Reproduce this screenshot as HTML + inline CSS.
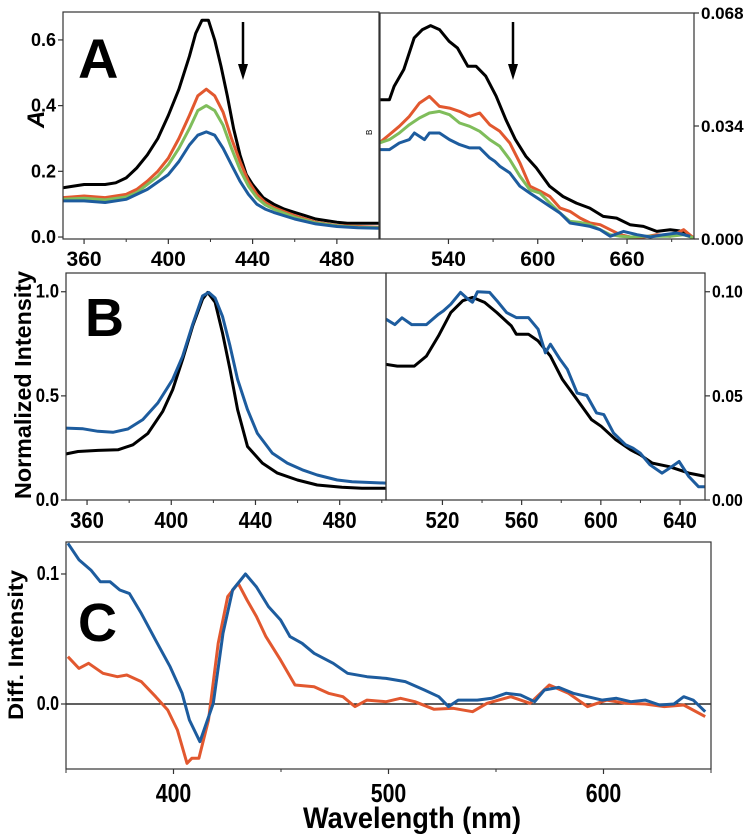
<!DOCTYPE html>
<html><head><meta charset="utf-8">
<style>
html,body{margin:0;padding:0;background:#fff;}
svg{display:block;font-family:"Liberation Sans",Arial,sans-serif;}
</style></head>
<body>
<svg id="fig" width="748" height="835" viewBox="0 0 748 835" xmlns="http://www.w3.org/2000/svg"></svg>
<script>
// ---------- DATA ----------
const aLeftBlack=[[350,0.15],[355,0.155],[360,0.16],[365,0.16],[370,0.16],[375,0.165],[380,0.18],[385,0.21],[390,0.25],[395,0.30],[400,0.37],[405,0.45],[410,0.55],[413,0.62],[416,0.66],[419,0.66],[422,0.60],[425,0.52],[428,0.43],[431,0.33],[434,0.25],[437,0.19],[440,0.16],[445,0.12],[450,0.10],[455,0.085],[460,0.075],[465,0.065],[470,0.055],[475,0.05],[480,0.045],[485,0.042],[490,0.042],[500,0.042]];
const aLeftRed=[[350,0.12],[360,0.125],[370,0.12],[380,0.13],[385,0.145],[390,0.17],[395,0.20],[400,0.24],[405,0.30],[410,0.37],[414,0.43],[418,0.45],[422,0.43],[426,0.38],[430,0.30],[434,0.23],[438,0.17],[442,0.13],[446,0.105],[450,0.09],[460,0.065],[470,0.045],[480,0.035],[490,0.032],[500,0.03]];
const aLeftGreen=[[350,0.115],[360,0.118],[370,0.113],[380,0.122],[385,0.135],[390,0.16],[395,0.185],[400,0.22],[405,0.27],[410,0.33],[414,0.385],[418,0.40],[422,0.385],[426,0.34],[430,0.27],[434,0.205],[438,0.155],[442,0.12],[446,0.098],[450,0.085],[460,0.06],[470,0.043],[480,0.034],[490,0.03],[500,0.028]];
const aLeftBlue=[[350,0.11],[360,0.11],[370,0.105],[380,0.115],[390,0.145],[400,0.19],[405,0.23],[410,0.28],[414,0.31],[418,0.32],[422,0.31],[426,0.27],[430,0.22],[434,0.17],[438,0.13],[442,0.10],[446,0.085],[450,0.075],[460,0.055],[470,0.04],[480,0.032],[490,0.028],[500,0.027]];
const aRightBlack=[[493.5,0.0419],[500.3,0.0419],[503.5,0.0459],[510,0.051],[517,0.0605],[522.5,0.063],[528,0.0642],[534,0.063],[540.4,0.0595],[546,0.0575],[553,0.052],[558.5,0.052],[565,0.049],[572,0.043],[578.6,0.0359],[585,0.0299],[592,0.0249],[599,0.0214],[608,0.0159],[617,0.0128],[626,0.0108],[635,0.0093],[644,0.0068],[653,0.0063],[662,0.0043],[671,0.0038],[680,0.0023],[689,0.0028],[698,0.0023],[705,0.0003]];
const aRightRed=[[493.5,0.0289],[500.3,0.0314],[507,0.0339],[513.7,0.0369],[520.5,0.0409],[527.2,0.0429],[534,0.0399],[540.7,0.0394],[547.5,0.0384],[554.2,0.0369],[561,0.0379],[567.7,0.0344],[574.5,0.0324],[581.2,0.0289],[588,0.0229],[594.7,0.0159],[601.5,0.0144],[608.2,0.0128],[615,0.0093],[621.7,0.0083],[628.5,0.0063],[635.2,0.0048],[642,0.0043],[648.7,0.0028],[655.5,0.0013],[662.2,0.0006],[671.2,0.0006],[680,0.0013],[689,0.0008],[698,0.0028],[704.7,0.0003]];
const aRightGreen=[[493.5,0.0289],[500.3,0.0299],[507,0.0319],[513.7,0.0344],[520.5,0.0364],[527.2,0.0379],[534,0.0384],[540.7,0.0374],[547.5,0.0349],[554.2,0.0339],[561,0.0324],[567.7,0.0299],[574.5,0.0279],[581.2,0.0239],[588,0.0189],[594.7,0.0148],[601.5,0.0138],[608.2,0.0108],[615,0.0078],[621.7,0.0053],[628.5,0.005],[635.2,0.0043],[642,0.0028],[648.7,0.0013],[655.5,0.0008],[662.2,0.0006],[671.2,0.0008],[680,0.0008],[689,0.0008],[698,0.0013],[704.7,0.0003]];
const aRightBlue=[[493.5,0.0269],[500.3,0.0269],[507,0.0289],[513.7,0.0299],[517.1,0.0319],[523.9,0.0299],[527.2,0.0319],[534,0.0319],[540.7,0.0299],[547.5,0.0284],[554.2,0.0274],[561,0.0274],[567.7,0.0244],[571.1,0.0234],[574.5,0.0219],[581.2,0.0199],[588,0.0159],[594.7,0.0138],[601.5,0.0118],[608.2,0.0098],[615,0.0078],[621.7,0.0048],[628.5,0.0043],[635.2,0.0038],[642,0.0028],[648.7,0.0008],[657.7,0.0023],[666.7,0.0013],[675.7,0.0006],[684.5,0.0013],[693.5,0.0018],[702.5,0.0008]];
const bLeftBlack=[[347.9,0.217],[355.7,0.233],[365.2,0.238],[374.7,0.241],[381.8,0.265],[388.9,0.32],[396,0.426],[400.7,0.53],[405.4,0.675],[410.2,0.836],[414.9,0.965],[417.3,0.997],[420.8,0.95],[424.4,0.80],[427.9,0.627],[431.5,0.434],[436.2,0.257],[443.3,0.177],[450.4,0.129],[459.9,0.096],[469.3,0.072],[481.1,0.061],[490.6,0.056],[504.1,0.056]];
const bLeftBlue=[[347.9,0.346],[358.1,0.342],[365.2,0.33],[372.3,0.325],[379.4,0.341],[386.5,0.386],[393.6,0.466],[400.7,0.579],[405.4,0.69],[410.2,0.844],[414.9,0.98],[417.8,0.997],[420.8,0.97],[424.4,0.88],[427.9,0.74],[431.5,0.579],[436.2,0.434],[440.9,0.32],[448,0.225],[455.1,0.177],[462.2,0.145],[469.3,0.12],[478.8,0.096],[485.9,0.088],[504.1,0.08]];
const bRightBlack=[[491.5,0.0651],[497.2,0.0643],[505.8,0.0643],[511.9,0.0691],[518,0.0788],[524.2,0.09],[530.3,0.0957],[535.2,0.0973],[541.3,0.0949],[547.5,0.09],[554.8,0.0836],[557.3,0.0796],[563.4,0.0796],[568.3,0.0764],[574.5,0.0691],[580.6,0.0579],[588,0.0482],[595.3,0.0386],[600.2,0.0354],[607.6,0.0289],[615,0.0241],[619.9,0.0217],[626,0.0177],[634.6,0.016],[644.4,0.0129],[653,0.0113]];
const bRightBlue=[[491.5,0.0868],[496,0.0842],[499.6,0.0875],[504.5,0.0842],[511.9,0.0842],[518,0.0892],[520.5,0.0908],[524.2,0.094],[529.1,0.0997],[532.8,0.0965],[535.2,0.095],[537.7,0.1],[543.8,0.0997],[547.5,0.0957],[552.4,0.09],[557.3,0.0876],[563.4,0.0876],[568.3,0.082],[572,0.0707],[574.5,0.0748],[579.4,0.0675],[583.1,0.0627],[588,0.0514],[592.9,0.0502],[597.8,0.0418],[601.5,0.041],[606.4,0.0322],[612.5,0.0265],[616.2,0.0249],[619.9,0.0225],[624.8,0.0169],[630.9,0.0129],[635.8,0.016],[639.5,0.0185],[644.4,0.0113],[649.3,0.0064],[653,0.0064]];
const cBlue=[[350.9,0.1236],[356,0.111],[361.6,0.103],[366,0.094],[370.5,0.094],[375,0.0877],[379.5,0.085],[385,0.0697],[391.7,0.049],[398.4,0.0287],[404,0.0082],[407.4,-0.0123],[412.3,-0.029],[418.5,0.0005],[423,0.0544],[427.5,0.0877],[433.5,0.1],[438.6,0.09],[444.2,0.0749],[449.8,0.0646],[454.2,0.0518],[459.8,0.0467],[465.4,0.039],[474.3,0.0313],[481,0.0236],[490,0.021],[498.9,0.0197],[507.8,0.0172],[516.7,0.0108],[523.4,0.0056],[527.9,-0.002],[532.4,0.003],[541.3,0.003],[548,0.0044],[554.7,0.0082],[561.4,0.0069],[568,0.0018],[572.5,0.0108],[579.2,0.0128],[585.9,0.0082],[592.6,0.0056],[599.3,0.003],[606,0.0044],[612.7,0.0018],[619.4,0.003],[626.1,-0.0008],[632.8,0],[637.3,0.0056],[641.7,0.003],[647.3,-0.0059]];
const cRed=[[350.9,0.0364],[356,0.0274],[360.5,0.0313],[367.2,0.0236],[373.9,0.021],[378.3,0.0223],[385,0.0172],[391.7,0.0056],[397.3,-0.0046],[401.8,-0.02],[406.3,-0.0456],[408.5,-0.0418],[411.8,-0.0418],[416.3,-0.0123],[420.8,0.0467],[425.2,0.0826],[430.1,0.0928],[434.2,0.08],[438.6,0.0672],[443,0.0518],[449.8,0.0338],[456.5,0.0146],[465.4,0.0133],[472.1,0.0082],[478.8,0.0056],[484.4,-0.002],[490,0.003],[498.9,0.0018],[505.6,0.0044],[512.3,0.0018],[521.2,-0.0041],[530.1,-0.0033],[539.1,-0.0059],[545.8,0.0005],[556.9,0.0056],[565.8,0.0005],[574.8,0.0146],[583.7,0.0082],[592.6,-0.002],[601.6,0.003],[610.5,0.0005],[619.4,0],[628.3,-0.002],[637.3,-0.0008],[647.3,-0.0097]];
const aLeftTicks=["0.0","0.2","0.4","0.6"], aLeftTickVals=[0,0.2,0.4,0.6];
const aRightTickVals=[0,0.034,0.068], aRightTicks=["0.000","0.034","0.068"];
const aLeftXTicks=[360,400,440,480], aRightXTicks=[540,600,660];
const bLeftTickVals=[0,0.5,1.0], bLeftTicks=["0.0","0.5","1.0"];
const bRightTickVals=[0,0.05,0.1], bRightTicks=["0.00","0.05","0.10"];
const bLeftXTicks=[360,400,440,480], bRightXTicks=[520,560,600,640];
const cTickVals=[0,0.1], cTicks=["0.0","0.1"], cXTicks=[400,500,600];

// ---------- HELPERS ----------
const NS="http://www.w3.org/2000/svg";
const svg=document.getElementById('fig');
function mk(tag,attrs,parent){const e=document.createElementNS(NS,tag);for(const k in attrs)e.setAttribute(k,attrs[k]);(parent||svg).appendChild(e);return e;}
const COL={black:"#000",red:"#e2582f",green:"#7fbd5b",blue:"#1d5c9e"};
let clipId=0;
function panel(name,box,xd,yd){
  const g=mk('g',{});
  
  
  const sx=v=>box.x0+(v-xd[0])/(xd[1]-xd[0])*(box.x1-box.x0);
  const sy=v=>box.y1-(v-yd[0])/(yd[1]-yd[0])*(box.y1-box.y0);
  const id='c'+(clipId++);
  const cp=mk('clipPath',{id:id},g);
  mk('rect',{x:box.x0,y:box.y0,width:box.x1-box.x0,height:box.y1-box.y0},cp);
  return {g,sx,sy,box,clip:'url(#'+id+')'};
}
function frame(p){
  const r=mk('rect',{x:p.box.x0,y:p.box.y0,width:p.box.x1-p.box.x0,height:p.box.y1-p.box.y0,fill:'none',stroke:'#333','stroke-width':1.2},p.g);
  
  
}
function series(p,data,color,name,w){
  const d=data.map((pt,i)=>(i?'L':'M')+p.sx(pt[0]).toFixed(1)+','+p.sy(pt[1]).toFixed(1)).join('');
  const e=mk('path',{d:d,fill:'none',stroke:color,'stroke-width':w||3,'stroke-linejoin':'round','clip-path':p.clip},p.g);
  
  
}
function lbl(parent,x,y,s,fs,anchor,sxs){
  const t=mk('text',{x:0,y:0,'text-anchor':anchor,'font-size':fs,'font-weight':'bold',fill:'#000',
    style:`font-size:${fs}px;font-weight:bold`,transform:`translate(${x},${y}) scale(${sxs||1},1)`},parent);
  t.textContent=s;
  return t;
}
function xticks(p,vals,fs,dy,minorStep,sxs){
  const y=p.box.y1;
  vals.forEach(v=>{
    const x=p.sx(v);
    mk('line',{x1:x,y1:y,x2:x,y2:y+5,stroke:'#333','stroke-width':1.2},p.g);
    const t=lbl(p.g,x,y+dy,String(v),fs,'middle',sxs);
    
    
  });
  if(minorStep){vals.forEach(v=>{const x=p.sx(v+minorStep);if(x<p.box.x1-2)mk('line',{x1:x,y1:y,x2:x,y2:y+3,stroke:'#333','stroke-width':1},p.g);});}
}
function yticks(p,vals,labels,side,fs,sxs){
  vals.forEach((v,i)=>{
    const y=p.sy(v);
    const x=side==='left'?p.box.x0:p.box.x1;
    const d=side==='left'?-5:5;
    mk('line',{x1:x,y1:y,x2:x+d,y2:y,stroke:'#333','stroke-width':1.2},p.g);
    const t=lbl(p.g,x+(side==='left'?-7:7),y+6,labels[i],fs,side==='left'?'end':'start',sxs);
    
    
  });
}
function text(x,y,s,attrs,name){
  const fs=attrs['font-size'];
  const st=`font-size:${fs}px;font-weight:${attrs['font-weight']||'bold'}`+(attrs['font-style']?';font-style:'+attrs['font-style']:'');
  const t=mk('text',Object.assign({x:x,y:y,'font-weight':'bold',fill:'#000',style:st},attrs));
  t.textContent=s;
  
  
  return t;
}
function arrow(x,y0,y1,name){
  const g=mk('g',{});
  
  
  mk('line',{x1:x,y1:y0,x2:x,y2:y1-12,stroke:'#000','stroke-width':2.5},g);
  mk('polygon',{points:`${x-5},${y1-16} ${x+5},${y1-16} ${x},${y1}`,fill:'#000'},g);
}

// ---------- PANEL A ----------
const pAL=panel('panel-a-left',{x0:63,x1:379,y0:12,y1:239},[350,500],[-0.006,0.685]);
['black','red','green','blue'].forEach((c,i)=>series(pAL,[aLeftBlack,aLeftRed,aLeftGreen,aLeftBlue][i],COL[c],'a-left-'+c+'-line'));
frame(pAL); xticks(pAL,aLeftXTicks,21,27,20); yticks(pAL,aLeftTickVals,aLeftTicks,'left',18);
const pAR=panel('panel-a-right',{x0:380,x1:694,y0:13,y1:239},[494,705],[0,0.068]);
['black','red','green','blue'].forEach((c,i)=>series(pAR,[aRightBlack,aRightRed,aRightGreen,aRightBlue][i],COL[c],'a-right-'+c+'-line'));
frame(pAR); xticks(pAR,aRightXTicks,21,27,30); yticks(pAR,aRightTickVals,aRightTicks,'right',17);
text(78,78,'A',{'font-size':56},'panel-a-label');
text(34,138,'A',{'font-size':24,'font-style':'italic',transform:'rotate(-90 34 128)'},'a-y-axis-title');
text(369,138,'B',{'font-size':8,'font-weight':'normal',transform:'rotate(-90 369 135)'},'a-right-y-axis-title');
arrow(243,22,80,'decrease-arrow-left');
arrow(513,22,80,'decrease-arrow-right');

// ---------- PANEL B ----------
const pBL=panel('panel-b-left',{x0:66,x1:386,y0:273,y1:500},[350,502],[0,1.09]);
series(pBL,bLeftBlack,COL.black,'b-left-black-line'); series(pBL,bLeftBlue,COL.blue,'b-left-blue-line');
frame(pBL); xticks(pBL,bLeftXTicks,23,28,20,0.88); yticks(pBL,bLeftTickVals,bLeftTicks,'left',19,0.88);
const pBR=panel('panel-b-right',{x0:386,x1:705,y0:273,y1:500},[491.5,652.6],[0,0.109]);
series(pBR,bRightBlack,COL.black,'b-right-black-line'); series(pBR,bRightBlue,COL.blue,'b-right-blue-line');
frame(pBR); xticks(pBR,bRightXTicks,23,28,20,0.88); yticks(pBR,bRightTickVals,bRightTicks,'right',18,0.88);
text(85,336,'B',{'font-size':54},'panel-b-label');
text(0,0,'Normalized Intensity',{'font-size':23,'text-anchor':'middle',textLength:228,lengthAdjust:'spacingAndGlyphs',transform:'translate(31 385) rotate(-90)'},'b-y-axis-title');

// ---------- PANEL C ----------
const pC=panel('panel-c',{x0:66,x1:711,y0:542,y1:769},[350,650],[-0.05,0.1246]);
const zl=mk('line',{x1:66,x2:711,y1:pC.sy(0),y2:pC.sy(0),stroke:'#000','stroke-width':1.2},pC.g);


series(pC,cRed,COL.red,'c-red-line'); series(pC,cBlue,COL.blue,'c-blue-line');
frame(pC); xticks(pC,cXTicks,26,33,50,0.82); yticks(pC,cTickVals,cTicks,'left',20,0.8);
[350,650].forEach(v=>mk('line',{x1:pC.sx(v),y1:769,x2:pC.sx(v),y2:773,stroke:'#333'},pC.g));
text(78,641,'C',{'font-size':54},'panel-c-label');
text(0,0,'Diff. Intensity',{'font-size':21,'text-anchor':'middle',textLength:150,lengthAdjust:'spacingAndGlyphs',transform:'translate(23 645) rotate(-90)'},'c-y-axis-title');
text(412,828,'Wavelength (nm)',{'font-size':30,'text-anchor':'middle',textLength:218,lengthAdjust:'spacingAndGlyphs'},'x-axis-title');
</script>
</body></html>
